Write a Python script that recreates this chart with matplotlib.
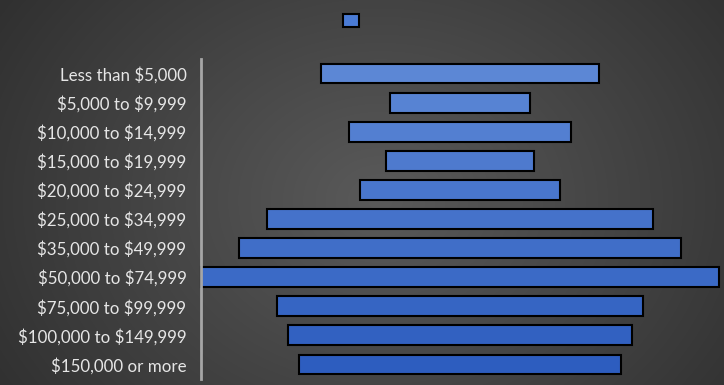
import numpy as np
import matplotlib.pyplot as plt
from matplotlib.colors import LinearSegmentedColormap, to_rgb

plt.rcParams['text.parse_math'] = False

categories = ['Less than $5,000', '$5,000 to $9,999', '$10,000 to $14,999',
              '$15,000 to $19,999', '$20,000 to $24,999', '$25,000 to $34,999',
              '$35,000 to $49,999', '$50,000 to $74,999', '$75,000 to $99,999',
              '$100,000 to $149,999', '$150,000 or more']
values = [10.7, 5.4, 8.6, 5.7, 7.7, 14.9, 17.1, 20.0, 14.1, 13.3, 12.4]

fig = plt.figure(figsize=(7.24, 3.85), dpi=100)

# radial background gradient
bg = fig.add_axes([0, 0, 1, 1], zorder=-10)
yy, xx = np.mgrid[0:385, 0:724]
r = np.sqrt(((xx - 380) / 520.0) ** 2 + ((yy - 200) / 420.0) ** 2)
r = np.clip(r, 0, 1)
bg_cmap = LinearSegmentedColormap.from_list('bg', ['#5a5a5a', '#2a2a2a'])
bg.imshow(r, cmap=bg_cmap, aspect='auto', extent=[0, 1, 0, 1], vmin=0, vmax=1)
bg.axis('off')

ax = fig.add_axes([201 / 724, 6 / 385, 518 / 724, 320 / 385])
ax.patch.set_alpha(0)

n = len(values)
y = np.arange(n)
top_c = np.array(to_rgb('#5c87d5'))
bot_c = np.array(to_rgb('#2d5dbf'))
colors = [top_c + (bot_c - top_c) * i / (n - 1) for i in range(n)]
left = [-v / 2 for v in values]
ax.barh(y, values, left=left, height=0.68, color=colors, edgecolor='black',
        linewidth=1.5, clip_on=False)

vmax = max(values)
ax.set_xlim(-vmax / 2, vmax / 2)
ax.set_ylim(n - 0.5, -0.5)
ax.set_yticks(y)
ax.set_yticklabels(categories, fontsize=12.2, color='#e6e6e6', family='Lato')
ax.tick_params(axis='y', length=0, pad=10.5)
ax.set_xticks([])
for s in ['top', 'right', 'bottom']:
    ax.spines[s].set_visible(False)
ax.spines['left'].set_color('#a6a6a6')
ax.spines['left'].set_linewidth(2)

fig.legend(handles=[plt.Rectangle((0, 0), 1, 1, facecolor='#4a7bd5',
                                  edgecolor='black', linewidth=1.5)],
           labels=[''], loc='center', bbox_to_anchor=(351 / 724, 1 - 21 / 385),
           frameon=False, handlelength=1.15, handleheight=1.15, handletextpad=0)

fig.savefig('out.png', dpi=100)
